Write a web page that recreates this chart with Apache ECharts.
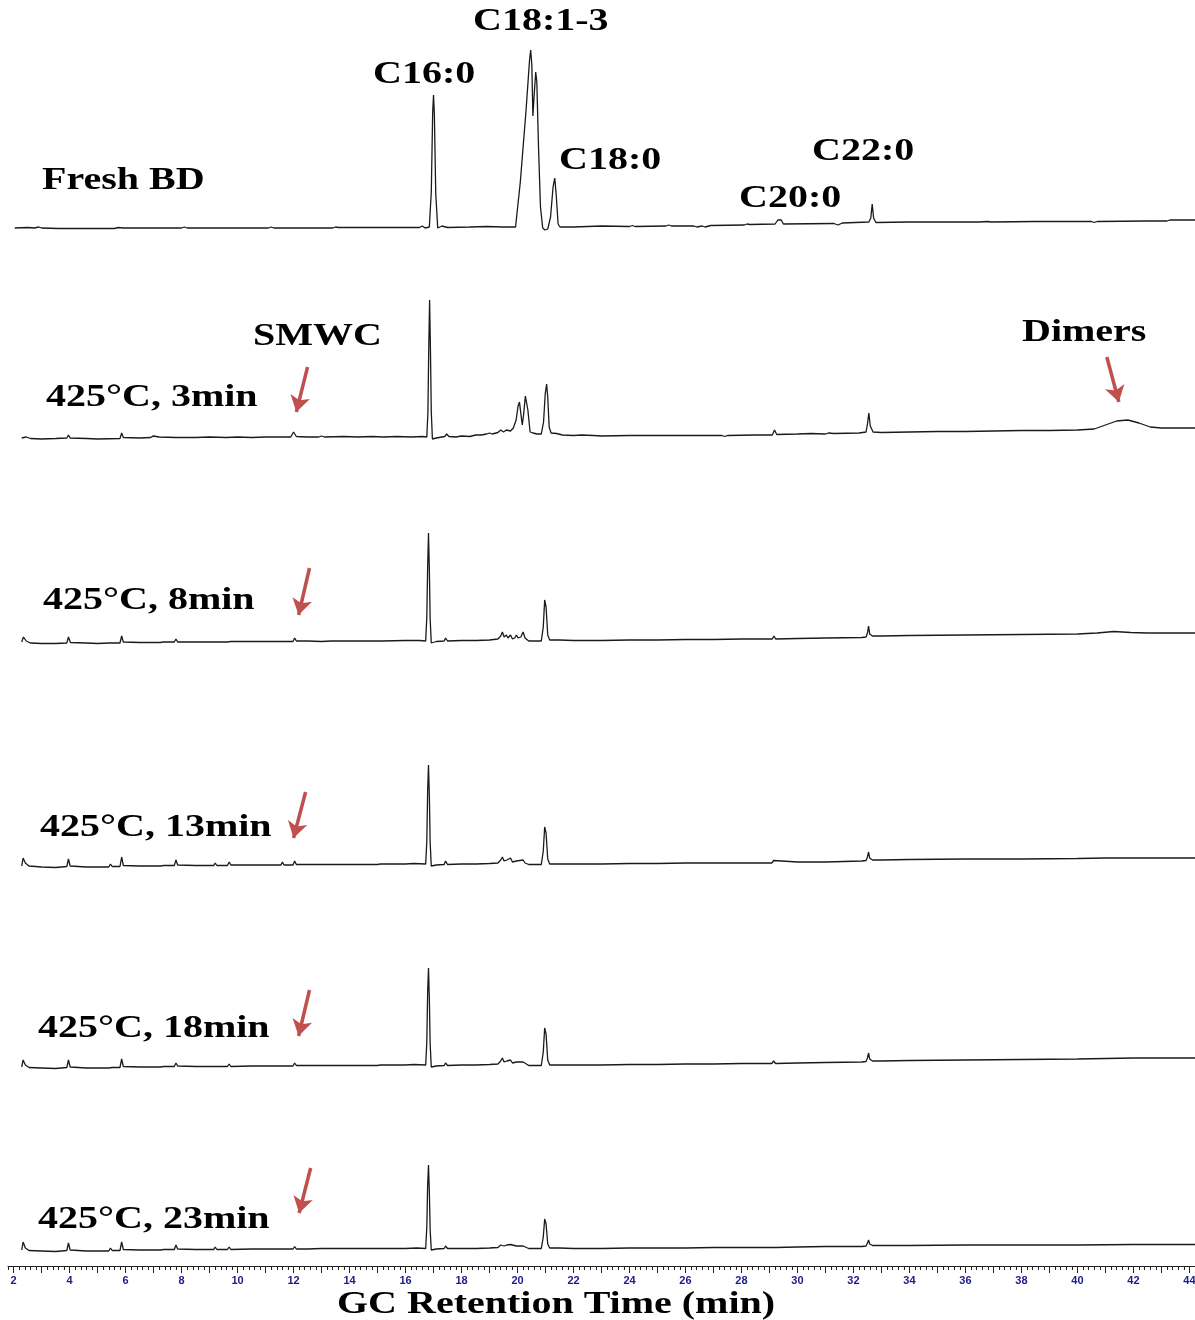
<!DOCTYPE html>
<html>
<head>
<meta charset="utf-8">
<title>GC chromatograms</title>
<script src="https://cdn.jsdelivr.net/npm/echarts@6/dist/echarts.min.js"></script>
<style>
  html, body { margin: 0; padding: 0; background: #fff; }
  #chart { width: 1195px; height: 1320px; }
</style>
</head>
<body>
<div id="chart"></div>
<script>
// Retention-time range (min) and axis labelling
const timeMin = 1.8;
const timeMax = 44.2;
const tickLabels = [2, 4, 6, 8, 10, 12, 14, 16, 18, 20, 22, 24, 26, 28, 30, 32, 34, 36, 38, 40, 42, 44];
const majorTicks = [2, 3, 4, 5, 6, 7, 8, 9, 10, 11, 12, 13, 14, 15, 16, 17, 18, 19, 20, 21, 22, 23,
  24, 25, 26, 27, 28, 29, 30, 31, 32, 33, 34, 35, 36, 37, 38, 39, 40, 41, 42, 43, 44];

// Sample names, top to bottom
const sampleNames = ['Fresh BD', '425°C, 3min', '425°C, 8min', '425°C, 13min', '425°C, 18min', '425°C, 23min'];

// Detector response (arbitrary units) vs retention time (min)
const freshBD = [
  [2.04,4],[2.5,4.5],[2.75,4],[2.9,5],[3.0,4],[3.6,3.5],[5.6,3.5],[5.75,4.5],[5.9,4],[8.0,4],[8.1,5],[8.2,4],
  [11.1,4],[11.2,5],[11.3,4],[13.4,4],[13.5,5],[13.6,4.5],[16.5,4.5],[16.6,6],[16.7,4],[16.85,5],[16.92,40],
  [16.97,120],[17.0,137],[17.03,118],[17.08,38],[17.15,4],[17.3,6],[17.5,4.5],[18.3,5],[18.9,5.5],[19.5,5],
  [19.93,5],[20.1,50],[20.3,120],[20.43,172],[20.47,182],[20.51,168],[20.55,116],[20.59,135],[20.65,160],
  [20.69,150],[20.75,85],[20.82,25],[20.9,4],[20.98,2],[21.08,3],[21.18,15],[21.27,45],[21.33,54],[21.38,38],
  [21.45,8],[21.52,5],[22.0,5],[23.0,6],[24.0,5.5],[24.1,6.5],[24.2,5.5],[25.3,6],[25.4,7],[25.5,6],[26.3,6],
  [26.4,5],[26.6,6],[26.7,5],[26.9,6.5],[28.1,7],[28.2,8],[28.3,7.5],[29.2,8],[29.3,12],[29.36,14],[29.42,12],
  [29.5,8],[31.3,8.5],[31.45,7],[31.6,9],[32.55,10],[32.62,14],[32.67,28],[32.72,14],[32.8,9.5],[34.0,10],
  [36.3,10],[36.35,9],[36.5,10],[36.8,10.5],[36.9,10],[38.5,10.5],[40.5,10.5],[40.6,9.5],[40.7,10.5],[42.5,11],
  [43.2,11],[43.3,12],[44.2,12]
];

const heat3min = [
  [2.29,4],[2.35,6],[2.45,5],[2.6,3.5],[3.0,3],[3.5,3.5],[3.9,4],[3.96,7],[4.02,4],[4.6,3.5],[5.0,3],[5.8,3.5],
  [5.86,9],[5.92,4.5],[6.5,4],[6.9,4.5],[6.98,6],[7.05,5],[7.2,5],[7.8,4.5],[7.86,6],[7.92,4.5],[8.5,4.5],
  [9.0,5],[9.6,4.5],[10.0,5],[10.5,4.5],[11.0,5],[11.9,5],[12.0,10],[12.04,9],[12.1,5.5],[12.5,5],[12.9,5],
  [13.0,6],[13.1,5],[13.8,5.5],[14.3,5],[14.8,5.5],[15.2,5],[15.7,5.5],[16.2,5],[16.6,5.5],[16.76,5],[16.8,30],
  [16.83,95],[16.86,142],[16.89,92],[16.92,30],[16.96,3],[17.1,4],[17.4,5.5],[17.47,8],[17.55,5.5],[17.8,5],
  [18.0,6],[18.3,5.5],[18.5,7],[18.7,7],[18.9,8],[19.0,9],[19.1,8],[19.3,9.5],[19.4,12],[19.5,10],[19.6,12],
  [19.75,11],[19.85,14],[19.95,22],[20.02,36],[20.07,40],[20.12,28],[20.17,17],[20.22,28],[20.28,46],
  [20.32,48],[20.37,32],[20.45,10],[20.55,9],[20.7,8],[20.85,8],[20.93,20],[20.99,48],[21.04,58],[21.08,45],
  [21.13,15],[21.2,9],[21.4,8.5],[21.6,7],[22.0,6.5],[22.3,7],[22.7,6.5],[23.0,6],[24.0,6.5],[25.0,6.5],
  [26.0,6.5],[27.3,6.5],[27.4,5.5],[27.5,6.5],[28.5,7],[29.1,7],[29.18,12],[29.26,7.5],[30.0,8],[30.5,8.5],
  [31.0,8],[31.1,9],[31.3,8.5],[32.2,9],[32.45,10],[32.5,18],[32.55,29],[32.6,16],[32.7,10],[33.0,9.5],
  [34.0,10],[35.0,10.5],[36.0,10.5],[37.0,11],[38.0,11.5],[39.0,11.5],[40.0,12],[40.6,13],[41.0,17],[41.4,21],
  [41.8,22],[42.2,19],[42.6,15],[43.0,14],[44.2,14]
];

const heat8min = [
  [2.29,5],[2.35,10],[2.45,6],[2.6,4],[3.0,3.5],[3.5,3.5],[3.9,4],[3.96,10],[4.03,4.5],[4.6,4],[5.0,3.5],
  [5.4,4],[5.46,6],[5.52,4],[5.8,4],[5.86,11],[5.92,5],[6.5,4.5],[7.0,4.5],[7.25,4.5],[7.3,6],[7.35,5],
  [7.74,5],[7.8,8],[7.86,5],[8.5,5],[9.15,5],[9.2,7],[9.25,5],[9.65,5],[9.7,7],[9.75,5.5],[10.5,5.5],[11.0,5.5],
  [11.55,5.5],[11.6,7],[11.65,5.5],[11.98,5.5],[12.04,9],[12.1,6],[12.5,6],[13.0,5.5],[13.35,6],[13.4,7],
  [13.45,6],[14.0,6],[14.45,6],[14.5,7],[14.55,6],[15.05,6],[15.1,7.5],[15.15,6],[16.0,6.5],[16.5,6.5],
  [16.72,6],[16.76,30],[16.79,80],[16.82,114],[16.85,78],[16.88,28],[16.92,4],[17.1,5.5],[17.38,6],[17.43,9],
  [17.5,6],[18.0,6.5],[18.4,6.5],[18.46,8],[18.52,6.5],[19.0,7],[19.3,8],[19.4,11],[19.46,15],[19.52,10],
  [19.6,12],[19.66,9],[19.75,12],[19.82,8],[19.9,9],[19.96,12],[20.02,9],[20.12,10],[20.2,15],[20.27,9],
  [20.4,6],[20.6,6],[20.85,6],[20.92,20],[20.97,47],[21.02,40],[21.08,12],[21.15,7],[21.5,7],[22.0,6.5],
  [23.0,6.5],[24.0,7],[25.0,7],[26.0,7.5],[27.0,7.5],[28.0,8],[29.1,8],[29.16,11],[29.22,8],[30.0,8.5],
  [31.0,9],[32.3,9.5],[32.45,10],[32.5,14],[32.54,21],[32.58,13],[32.68,11],[33.0,11],[34.0,11.5],[36.0,12],
  [38.0,12.5],[40.0,13],[40.7,14],[41.3,15.5],[41.9,14.5],[42.5,14],[44.2,14]
];

const heat13min = [
  [2.29,5],[2.34,13],[2.42,8],[2.55,5],[3.0,4],[3.5,3.5],[3.9,4.5],[3.96,12],[4.02,5],[4.6,4],[5.0,4],[5.4,4],
  [5.46,7],[5.52,4.5],[5.8,4.5],[5.86,14],[5.92,5.5],[6.5,5],[7.0,5],[7.25,5],[7.3,7],[7.36,5.5],[7.74,5.5],
  [7.8,11],[7.86,6],[8.5,5.5],[9.15,5.5],[9.2,8],[9.26,5.5],[9.64,5.5],[9.7,9],[9.76,6],[10.5,6],[11.0,6],
  [11.55,6],[11.6,9],[11.66,6],[11.98,6],[12.04,10],[12.1,6.5],[12.5,6.5],[13.0,6.5],[13.35,6.5],[13.4,8],
  [13.46,6.5],[14.0,6.5],[14.05,7.5],[14.1,6.5],[14.5,6.5],[14.55,7.5],[15.0,6.5],[15.05,8],[15.1,7],[15.5,7],
  [16.0,7],[16.3,7.5],[16.72,7],[16.76,30],[16.79,80],[16.82,106],[16.85,76],[16.88,28],[16.92,5],[17.1,6],
  [17.38,6.5],[17.43,10],[17.5,6.5],[18.0,7],[18.4,7],[18.46,9],[18.52,7],[19.0,7.5],[19.3,8],[19.4,11],
  [19.46,14],[19.52,10],[19.62,11],[19.75,13],[19.82,9],[19.96,10],[20.02,9],[20.2,11],[20.27,8],[20.4,6.5],
  [20.6,6.5],[20.85,6.5],[20.92,20],[20.97,44],[21.02,38],[21.08,12],[21.15,7],[21.5,7],[22.0,7],[23.0,7],
  [24.0,7.5],[25.0,7.5],[26.0,8],[27.0,8],[28.0,8],[29.08,8],[29.15,10.5],[29.22,8.5],[30.0,9],[31.0,9],
  [32.3,10],[32.45,10.5],[32.5,14],[32.54,19],[32.58,13],[32.68,11],[33.0,11],[34.0,11.5],[36.0,12],[38.0,12],
  [40.0,12.5],[41.0,13],[42.0,13],[44.2,13]
];

const heat18min = [
  [2.29,5],[2.34,12],[2.42,7],[2.55,4.5],[3.0,4],[3.5,3.5],[3.9,4.5],[3.96,12],[4.02,5],[4.6,4],[5.0,4],
  [5.4,4],[5.46,6],[5.52,4.5],[5.8,4.5],[5.86,13],[5.92,5.5],[6.5,5],[7.0,5],[7.25,5],[7.3,6.5],[7.36,5.5],
  [7.74,5.5],[7.8,9],[7.86,6],[8.5,5.5],[9.15,5.5],[9.2,7],[9.26,5.5],[9.64,5.5],[9.7,8],[9.76,5.5],[10.5,6],
  [11.0,6],[11.55,6],[11.6,8],[11.66,6],[11.98,6],[12.04,9],[12.1,6.5],[12.5,6.5],[13.0,6.5],[13.35,6.5],
  [13.4,7.5],[13.46,6.5],[14.0,6.5],[14.5,6.5],[14.55,7.5],[15.0,6.5],[15.05,7.5],[15.1,7],[15.5,7],[16.0,7],
  [16.3,7.5],[16.72,7],[16.76,30],[16.79,80],[16.82,104],[16.85,74],[16.88,28],[16.92,5],[17.1,6],[17.38,6.5],
  [17.43,9],[17.5,6.5],[18.0,7],[18.4,7],[18.46,8.5],[18.52,7],[19.0,7.5],[19.3,8],[19.4,11],[19.46,14],
  [19.52,10],[19.62,11],[19.75,12],[19.82,9],[19.96,10],[20.02,9],[20.2,10],[20.27,8],[20.4,6.5],[20.6,6.5],
  [20.85,6.5],[20.92,20],[20.97,44],[21.02,38],[21.08,12],[21.15,7],[21.5,7],[22.0,7],[23.0,7],[24.0,7.5],
  [25.0,7.5],[26.0,8],[27.0,8],[28.0,8.5],[29.08,8.5],[29.15,11],[29.22,8.5],[30.0,9],[31.0,9.5],[32.3,10],
  [32.45,10.5],[32.5,14],[32.54,19],[32.58,13],[32.68,11],[33.0,11],[34.0,11.5],[36.0,12],[38.0,12.5],
  [40.0,13],[41.0,13.5],[42.0,14],[44.2,14]
];

const heat23min = [
  [2.29,5],[2.34,13],[2.42,7],[2.55,4.5],[3.0,4],[3.5,3.5],[3.9,4.5],[3.96,12],[4.02,5],[4.6,4],[5.0,4],
  [5.4,4],[5.46,7],[5.52,4.5],[5.8,4.5],[5.86,13],[5.92,5.5],[6.5,5],[7.0,5],[7.25,5],[7.3,6.5],[7.36,5.5],
  [7.74,5.5],[7.8,10],[7.86,6],[8.5,5.5],[9.15,5.5],[9.2,8],[9.26,5.5],[9.64,5.5],[9.7,8],[9.76,5.5],[10.5,6],
  [11.0,6],[11.55,6],[11.6,8],[11.66,6],[11.98,6],[12.04,8.5],[12.1,6],[12.5,6],[13.0,6.5],[13.35,6.5],
  [13.4,7.5],[13.46,6.5],[14.0,6.5],[14.5,6.5],[15.0,6.5],[15.05,7],[15.1,6.5],[15.5,6.5],[16.0,6.5],
  [16.4,7],[16.72,6.5],[16.76,28],[16.79,70],[16.82,90],[16.85,64],[16.88,25],[16.92,5],[17.1,6],[17.38,6.5],
  [17.43,9],[17.5,6.5],[18.0,6.5],[18.4,6.5],[18.46,8],[18.52,6.5],[19.0,7],[19.3,7.5],[19.4,10],[19.46,12],
  [19.52,9],[19.62,10],[19.75,10.5],[19.82,8.5],[19.96,9],[20.02,8],[20.2,9],[20.27,7.5],[20.4,6.5],[20.6,6.5],
  [20.85,6.5],[20.92,18],[20.97,36],[21.02,31],[21.08,11],[21.15,7],[21.5,7],[22.0,6.5],[23.0,6.5],[24.0,7],
  [25.0,7],[26.0,7],[27.0,7.5],[28.0,7.5],[29.08,7.5],[29.15,9.5],[29.22,7.5],[30.0,8],[31.0,8.5],[32.3,8.5],
  [32.45,9],[32.5,12],[32.54,15],[32.58,11],[32.68,9.5],[33.0,9.5],[34.0,9.5],[36.0,10],[38.0,10],[40.0,10],
  [42.0,10.5],[44.2,10.5]
];

const traces = [freshBD, heat3min, heat8min, heat13min, heat18min, heat23min];

// Arrow annotations: [tail time, tail response, head time, head response]
const smwcArrows = [
  null,
  [12.5, 75, 12.1, 30],
  [12.57, 79, 12.18, 32],
  [12.43, 79, 12.0, 33],
  [12.57, 82, 12.18, 36],
  [12.61, 87, 12.2, 42]
];
const dimerArrow = [41.05, 85, 41.48, 40];

// Panel layout: pixel row of each panel's zero response
const panelZero = [232, 442, 647, 871, 1072, 1255];
const panelHeight = 200;
const plotLeft = 8;
const plotRight = 0;

const arrowColor = '#c0504d';
const traceColor = '#1a1a1a';
const axisColor = '#222';

const grids = [], xAxes = [], yAxes = [], series = [];

panelZero.forEach((zero, i) => {
  grids.push({
    left: plotLeft, right: plotRight, top: zero - panelHeight, height: panelHeight,
    containLabel: false, outerBoundsMode: 'none'
  });
  const isBottom = i === panelZero.length - 1;
  xAxes.push({
    type: 'value', gridIndex: i, min: timeMin, max: timeMax,
    show: isBottom, position: 'bottom',
    offset: 11,
    axisLine: { show: true, onZero: false, lineStyle: { color: axisColor, width: 1 } },
    axisTick: { show: true, customValues: majorTicks, length: 7, lineStyle: { color: axisColor, width: 1 } },
    axisLabel: {
      show: true, customValues: tickLabels, margin: 9,
      color: '#1c1c88', fontFamily: 'Liberation Sans', fontWeight: 'bold', fontSize: 11
    },
    splitLine: { show: false }
  });
  yAxes.push({ type: 'value', gridIndex: i, min: 0, max: panelHeight, show: false, splitLine: { show: false } });

  const marks = [];
  const a = smwcArrows[i];
  if (a) marks.push([{ coord: [a[0], a[1]] }, { coord: [a[2], a[3]] }]);
  if (i === 1) marks.push([{ coord: [dimerArrow[0], dimerArrow[1]] }, { coord: [dimerArrow[2], dimerArrow[3]] }]);

  series.push({
    name: sampleNames[i],
    type: 'line',
    xAxisIndex: i, yAxisIndex: i,
    data: traces[i],
    showSymbol: false, symbol: 'none', smooth: false,
    lineStyle: { color: traceColor, width: 1.3 },
    silent: true,
    markLine: marks.length ? {
      silent: true, animation: false,
      symbol: ['none', 'arrow'], symbolSize: [15, 16],
      lineStyle: { color: arrowColor, width: 3.5, type: 'solid' },
      label: { show: false },
      emphasis: { disabled: true },
      data: marks
    } : undefined
  });
});

// Minor ticks every 0.2 min on the time axis
const minorTicks = [];
for (let k = 9; k <= 221; k++) minorTicks.push(+(k * 0.2).toFixed(1));
xAxes.push({
  type: 'value', gridIndex: panelZero.length - 1, min: timeMin, max: timeMax,
  position: 'bottom', offset: 11,
  axisLine: { show: false, onZero: false },
  axisTick: { show: true, customValues: minorTicks, length: 4, lineStyle: { color: axisColor, width: 1 } },
  axisLabel: { show: false },
  splitLine: { show: false }
});

// Bold serif annotations, slightly widened
const serif = 'bold 32px "Liberation Serif", "Times New Roman", serif';
function label(text, x, y) {
  return {
    type: 'text', x: x, y: y, scaleX: 1.25, silent: true,
    style: { text: text, font: serif, fill: '#000', align: 'left', verticalAlign: 'middle' }
  };
}
const graphics = [
  label(sampleNames[0], 42, 181),
  label(sampleNames[1], 46, 398),
  label(sampleNames[2], 43, 601),
  label(sampleNames[3], 40, 828),
  label(sampleNames[4], 38, 1029),
  label(sampleNames[5], 38, 1220),
  label('C16:0', 373, 75),
  label('C18:1-3', 473, 22),
  label('C18:0', 559, 161),
  label('C22:0', 812, 152),
  label('C20:0', 739, 199),
  label('SMWC', 253, 337),
  label('Dimers', 1022, 333),
  label('GC Retention Time (min)', 337, 1305)
];

const chart = echarts.init(document.getElementById('chart'), null, { renderer: 'canvas' });
chart.setOption({
  animation: false,
  backgroundColor: '#ffffff',
  grid: grids,
  xAxis: xAxes,
  yAxis: yAxes,
  series: series,
  graphic: graphics
});
</script>
</body>
</html>
